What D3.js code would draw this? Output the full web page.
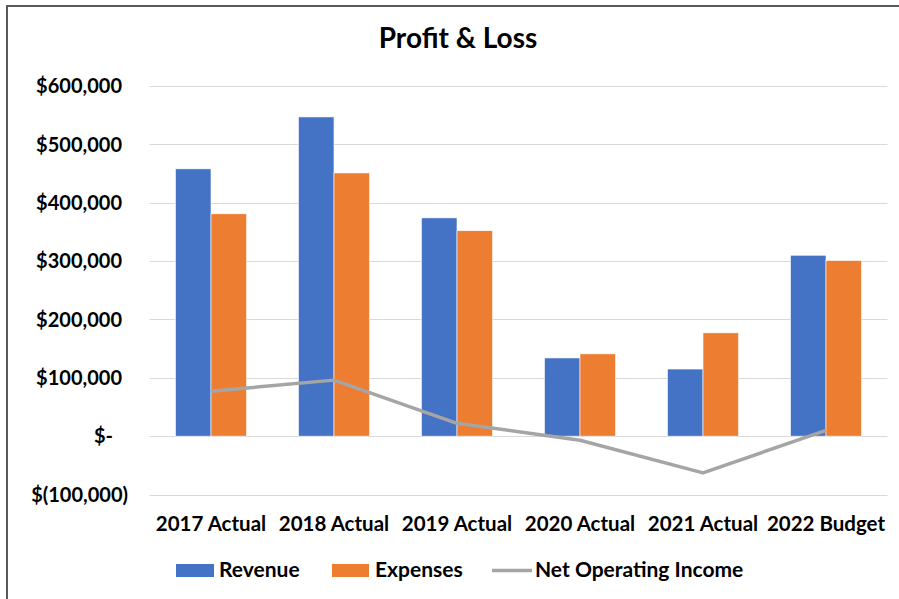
<!DOCTYPE html>
<html>
<head>
<meta charset="utf-8">
<script src="https://d3js.org/d3.v7.min.js"></script>
<style>
    body { margin: 0; background: #fff; }
    svg { display: block; font-family: Lato, "Open Sans", sans-serif; font-weight: bold; }
</style>
</head>
<body>
<script>
    const categories = ["2017 Actual", "2018 Actual", "2019 Actual", "2020 Actual", "2021 Actual", "2022 Budget"];
    const revenue = [458000, 547000, 374000, 134000, 115000, 310000];
    const expenses = [381000, 451000, 352000, 141000, 177000, 301000];
    const netIncome = [77000, 96000, 22000, -7000, -63000, 10000];
    const yTicks = [-100000, 0, 100000, 200000, 300000, 400000, 500000, 600000];

    const width = 899, height = 599;
    const svg = d3.select("body").append("svg").attr("width", width).attr("height", height);

    // chart frame
    svg.append("rect")
        .attr("x", 7).attr("y", 6)
        .attr("width", width).attr("height", height)
        .attr("fill", "none")
        .attr("stroke", "#595959")
        .attr("stroke-width", 2);

    const x = d3.scaleBand().domain(categories).range([149.5, 887.5]).padding(0);
    const y = d3.scaleLinear().domain([-100000, 600000]).range([494.5, 86]);
    const barW = x.bandwidth() * 0.289;

    function fmt(v) {
        if (v === 0) return "$-";
        if (v < 0) return "$(" + d3.format(",")(-v) + ")";
        return "$" + d3.format(",")(v);
    }

    // gridlines
    svg.append("g").selectAll("line").data(yTicks).join("line")
        .attr("x1", 149.5).attr("x2", 887.5)
        .attr("y1", d => Math.round(y(d)) + 0.5).attr("y2", d => Math.round(y(d)) + 0.5)
        .attr("stroke", "#d9d9d9").attr("stroke-width", 1);

    // y labels
    svg.append("g").selectAll("text").data(yTicks).join("text")
        .attr("x", d => d === 0 ? 113 : d < 0 ? 128 : 122)
        .attr("y", d => y(d))
        .attr("dy", "0.36em")
        .attr("text-anchor", "end")
        .attr("font-size", 20)
        .attr("fill", "#000")
        .text(fmt);

    // bars
    const cx = d => x(d) + x.bandwidth() / 2;
    svg.append("g").selectAll("rect").data(categories).join("rect")
        .attr("x", d => cx(d) - barW)
        .attr("y", (d, i) => y(revenue[i]))
        .attr("width", barW)
        .attr("height", (d, i) => y(0) - y(revenue[i]))
        .attr("fill", "#4472c4")
        .attr("stroke", "#fff").attr("stroke-width", 0.6);
    svg.append("g").selectAll("rect").data(categories).join("rect")
        .attr("x", d => cx(d))
        .attr("y", (d, i) => y(expenses[i]))
        .attr("width", barW)
        .attr("height", (d, i) => y(0) - y(expenses[i]))
        .attr("fill", "#ed7d31")
        .attr("stroke", "#fff").attr("stroke-width", 0.6);

    // net operating income line
    svg.append("path")
        .datum(categories)
        .attr("fill", "none")
        .attr("stroke", "#a5a5a5")
        .attr("stroke-width", 3.5)
        .attr("stroke-linejoin", "round")
        .attr("d", d3.line().x(d => cx(d)).y((d, i) => y(netIncome[i])));

    // category labels
    svg.append("g").selectAll("text").data(categories).join("text")
        .attr("x", d => cx(d))
        .attr("y", 531)
        .attr("text-anchor", "middle")
        .attr("font-size", 20.5)
        .text(d => d);

    // title
    svg.append("text")
        .attr("x", 458).attr("y", 48)
        .attr("text-anchor", "middle")
        .attr("font-size", 28)
        .text("Profit & Loss");

    // legend
    const legend = svg.append("g").attr("font-size", 21);
    legend.append("rect").attr("x", 176).attr("y", 564).attr("width", 38).attr("height", 13).attr("fill", "#4472c4");
    legend.append("text").attr("x", 219).attr("y", 577).text("Revenue");
    legend.append("rect").attr("x", 332).attr("y", 564).attr("width", 37).attr("height", 13).attr("fill", "#ed7d31");
    legend.append("text").attr("x", 375).attr("y", 577).text("Expenses");
    legend.append("line").attr("x1", 492).attr("x2", 532).attr("y1", 570.5).attr("y2", 570.5)
        .attr("stroke", "#a5a5a5").attr("stroke-width", 3.5);
    legend.append("text").attr("x", 535).attr("y", 577).text("Net Operating Income");
</script>
</body>
</html>
